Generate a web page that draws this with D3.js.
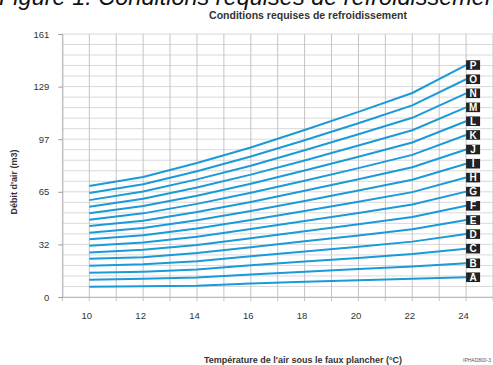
<!DOCTYPE html>
<html>
<head>
<meta charset="utf-8">
<script src="https://cdn.jsdelivr.net/npm/d3@7"></script>
<style>
  body { margin: 0; background: #fff; }
  svg { display: block; font-family: "Liberation Sans", Arial, sans-serif; }
</style>
</head>
<body>
<svg id="chart" width="493" height="365"></svg>
<script>
// temperatures (°C) along the x axis
const temps = [10, 12, 14, 16, 18, 20, 22, 24];
const letters = ["A", "B", "C", "D", "E", "F", "G", "H", "I", "J", "K", "L", "M", "N", "O", "P"];
// air flow, one row per letter
const debit = [
  [6.3, 6.6, 6.9, 8.3, 9.3, 10.2, 11.1, 12.1],
  [10.6, 11.1, 11.9, 13.8, 15.5, 17.1, 18.7, 20.6],
  [14.8, 15.5, 16.9, 19.4, 21.7, 23.9, 26.3, 29.6],
  [19.1, 20.0, 21.9, 24.9, 27.9, 30.8, 33.9, 38.5],
  [23.4, 24.4, 26.9, 30.5, 34.1, 37.7, 41.5, 47.1],
  [27.3, 28.9, 31.9, 36.0, 40.3, 44.6, 49.0, 55.8],
  [31.4, 33.4, 36.9, 41.6, 46.5, 51.4, 56.6, 64.5],
  [35.4, 37.8, 42.0, 47.1, 52.7, 58.3, 64.2, 73.1],
  [39.4, 42.3, 47.0, 52.7, 58.8, 65.2, 71.8, 81.6],
  [43.4, 46.7, 52.0, 58.2, 65.0, 72.1, 79.4, 90.3],
  [47.3, 51.2, 57.0, 63.8, 71.2, 78.9, 87.0, 99.2],
  [51.2, 55.7, 62.0, 69.3, 77.4, 85.8, 94.6, 107.6],
  [55.3, 60.1, 67.0, 74.9, 83.6, 92.7, 102.1, 116.1],
  [59.3, 64.6, 72.0, 80.4, 89.8, 99.6, 109.7, 124.7],
  [63.7, 69.0, 77.0, 86.0, 96.0, 106.4, 117.3, 133.3],
  [68.0, 73.5, 82.0, 91.5, 102.2, 113.3, 124.9, 142.0]
];
const yTicks = [0, 32.2, 64.4, 96.6, 128.8, 161];
const yTickLabels = ["0", "32", "65", "97", "129", "161"];
const xTicks = [10, 12, 14, 16, 18, 20, 22, 24];

const svg = d3.select("#chart");

const x = d3.scaleLinear().domain([9, 25]).range([62.4, 493]);
const y = d3.scaleLinear().domain([0, 161]).range([297, 34]);

// big figure caption, cut off at the top like in the scan
svg.append("text")
    .attr("x", -1)
    .attr("y", 5)
    .attr("font-size", 23.5)
    .attr("font-style", "italic")
    .attr("fill", "#111")
    .text("Figure 1. Conditions requises de refroidissement");

svg.append("text")
    .attr("x", 308)
    .attr("y", 19)
    .attr("text-anchor", "middle")
    .attr("font-size", 10.5)
    .attr("font-weight", "bold")
    .attr("fill", "#333")
    .text("Conditions requises de refroidissement");

// grid
const grid = svg.append("g");
grid.selectAll(".h")
    .data(d3.range(0, 26).map(i => i * 161 / 25))
    .join("line")
    .attr("x1", x(9)).attr("x2", x(25))
    .attr("y1", d => y(d)).attr("y2", d => y(d))
    .attr("stroke", "#d9d9d9")
    .attr("stroke-width", 1);
grid.selectAll(".v")
    .data(d3.range(9, 26))
    .join("line")
    .attr("x1", d => x(d)).attr("x2", d => x(d))
    .attr("y1", y(161)).attr("y2", y(0) + 4)
    .attr("stroke", "#c4c4c4")
    .attr("stroke-width", 1);

// y axis
const yAxis = svg.append("g")
    .attr("transform", `translate(${x(9)},0)`)
    .call(d3.axisLeft(y).tickValues(yTicks).tickFormat((d, i) => yTickLabels[i]).tickSize(4).tickPadding(9));
yAxis.select(".domain").attr("stroke", "#bbb");
yAxis.selectAll(".tick line").attr("stroke", "#999");
yAxis.selectAll("text").attr("font-size", 9.5).attr("fill", "#333").attr("font-family", null);

// x axis
const xAxis = svg.append("g")
    .attr("transform", `translate(0,${y(0)})`)
    .call(d3.axisBottom(x).tickValues(xTicks).tickFormat(d3.format("d")).tickSize(0).tickPadding(15));
xAxis.select(".domain").attr("stroke", "#bbb");
xAxis.selectAll("text").attr("font-size", 9.5).attr("fill", "#333").attr("font-family", null)
    .attr("dx", -3);

// curves
const line = d3.line()
    .x((d, i) => x(temps[i]))
    .y(d => y(d));

svg.append("g")
    .selectAll("path")
    .data(debit)
    .join("path")
    .attr("d", line)
    .attr("fill", "none")
    .attr("stroke", "#1a9ad8")
    .attr("stroke-width", 2);

// letter boxes at the end of each curve
const tags = svg.append("g")
    .selectAll("g")
    .data(debit)
    .join("g")
    .attr("transform", d => `translate(${x(24)},${y(d[d.length - 1])})`);
tags.append("rect")
    .attr("x", 0).attr("y", -4.8)
    .attr("width", 14).attr("height", 9.6)
    .attr("fill", "#222");
tags.append("text")
    .attr("x", 7).attr("y", 3.6)
    .attr("text-anchor", "middle")
    .attr("font-size", 10)
    .attr("font-weight", "bold")
    .attr("fill", "#fff")
    .text((d, i) => letters[i]);

// axis titles
svg.append("text")
    .attr("transform", "translate(17,182) rotate(-90)")
    .attr("text-anchor", "middle")
    .attr("font-size", 9)
    .attr("font-weight", "bold")
    .attr("fill", "#333")
    .text("Débit d'air (m3)");

svg.append("text")
    .attr("x", 303)
    .attr("y", 363)
    .attr("text-anchor", "middle")
    .attr("font-size", 9)
    .attr("font-weight", "bold")
    .attr("fill", "#333")
    .text("Température de l'air sous le faux plancher (°C)");

svg.append("text")
    .attr("x", 463)
    .attr("y", 362)
    .attr("font-size", 5)
    .attr("fill", "#555")
    .text("IPHAD800-3");
</script>
</body>
</html>
